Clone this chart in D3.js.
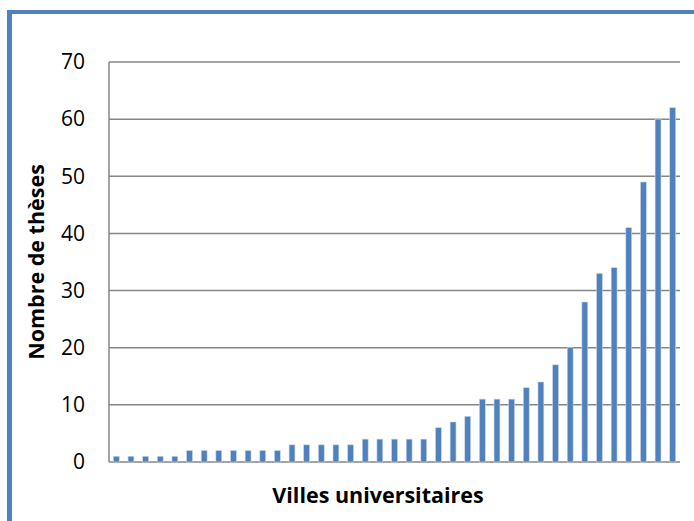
<!DOCTYPE html>
<html><head><meta charset="utf-8">
<script src="https://cdn.jsdelivr.net/npm/d3@7"></script>
<style>body{margin:0;background:#fff;} svg{display:block;}</style>
</head><body>
<svg id="c" width="694" height="521"></svg>
<script>
const categories = d3.range(1, 40).map(i => "V" + i);
const values = [1,1,1,1,1, 2,2,2,2,2,2,2, 3,3,3,3,3, 4,4,4,4,4, 6,7,8, 11,11,11, 13,14,17,20,28,33,34,41,49,60,62];
const yTicks = [0,10,20,30,40,50,60,70];
const yTitle = "Nombre de thèses";
const xTitle = "Villes universitaires";

const svg = d3.select("#c");
const font = "'Open Sans', 'Liberation Sans', sans-serif";
// frame
svg.append("rect").attr("x",7).attr("y",10).attr("width",5).attr("height",511).attr("fill","#4f81bd");
svg.append("rect").attr("x",7).attr("y",10).attr("width",687).attr("height",4).attr("fill","#4f81bd");

const L=109, R=680, T=62, B=462;
const x = d3.scaleBand().domain(categories).range([L,R]).paddingInner(0.6).paddingOuter(0.3);
const y = d3.scaleLinear().domain([0,70]).range([B,T]);

const g = svg.append("g");
g.selectAll("line.grid").data(yTicks).join("line")
  .attr("x1",L).attr("x2",R).attr("y1",d=>y(d)).attr("y2",d=>y(d))
  .attr("stroke","#868686").attr("stroke-width",1.5);
g.append("line").attr("x1",L).attr("x2",L).attr("y1",T).attr("y2",B).attr("stroke","#868686").attr("stroke-width",1.5);

g.selectAll("rect.bar").data(values).join("rect")
  .attr("x",(d,i)=>x(categories[i])).attr("width",x.bandwidth())
  .attr("y",d=>y(d)).attr("height",d=>B-y(d))
  .attr("fill","#4f81bd").attr("stroke","#c6d5ea").attr("stroke-width",0.6);

const ax = svg.append("g").attr("transform",`translate(${L-24},0)`)
  .call(d3.axisLeft(y).tickValues(yTicks).tickSize(0).tickPadding(0));
ax.select(".domain").remove();
ax.selectAll("text").attr("font-family",font).attr("font-size",21).attr("fill","#000");

svg.append("text").attr("transform","translate(44,262) rotate(-90)")
  .attr("text-anchor","middle").attr("font-family",font).attr("font-weight","bold")
  .attr("font-size",21.5).text(yTitle);
svg.append("text").attr("x",378).attr("y",503)
  .attr("text-anchor","middle").attr("font-family",font).attr("font-weight","bold")
  .attr("font-size",21.5).text(xTitle);
</script>
</body></html>
